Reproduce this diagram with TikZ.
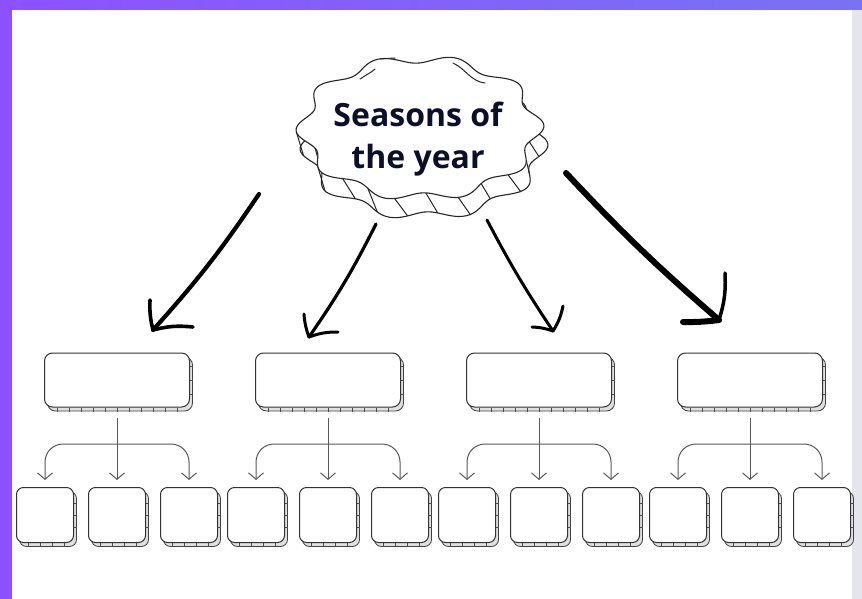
\documentclass[tikz,border=0pt]{standalone}
\usepackage{fontspec}
\newfontfamily\titlefont{Open Sans}
\usetikzlibrary{arrows.meta,calc}
\definecolor{purpL}{RGB}{140,82,255}
\definecolor{purpR}{RGB}{120,114,244}
\definecolor{stripgray}{RGB}{228,230,235}
\definecolor{navy}{RGB}{10,16,42}
\newcommand\cldX[1]{420+117*(1+0.06*cos(10*(#1)+18))*cos(#1)}
\newcommand\cldY[1]{128+69*(1+0.06*cos(10*(#1)+18))*sin(#1)}
\tikzset{brb/.tip={Straight Barb[length=6.5pt,width=15pt,line width=1pt]}}
\begin{document}
\begin{tikzpicture}[x=1pt,y=-1pt,
  cloudline/.style={draw=black!85,line width=1.1pt,fill=white},
  hatch/.style={draw=black!85,line width=1pt},
  title/.style={font=\titlefont\bfseries\fontsize{32}{42}\selectfont,text=navy,align=center,inner sep=0pt},
  bigarrow/.style={draw=black,line cap=round,line join=round},
  topbox/.style={draw=black!80,line width=1pt,fill=white,rounded corners=8pt,
     minimum width=145pt,minimum height=54pt,inner sep=0pt,
     preaction={draw=black!75,fill=black!12,line width=0.8pt,transform canvas={shift={(3pt,-4pt)}}}},
  smallbox/.style={draw=black!80,line width=1pt,fill=white,rounded corners=7pt,
     minimum width=57pt,minimum height=55pt,inner sep=0pt,
     preaction={draw=black!75,fill=black!12,line width=0.8pt,transform canvas={shift={(3pt,-4pt)}}}},
  tickmark/.style={draw=black!70,line width=0.7pt},
  conn/.style={draw=black!65,line width=1pt}
]
\useasboundingbox (0,0) rectangle (862,599);
\fill[white] (0,0) rectangle (862,599);
\shade[left color=purpL,right color=purpR] (0,0) rectangle (862,10);
\fill[purpL] (0,0) rectangle (12,599);
\fill[stripgray] (852,10) rectangle (862,599);

% cloud: back (extruded) face, hatches, front face
\draw[cloudline] plot[domain=0:360,samples=181,smooth cycle,variable=\t]
   ({\cldX{\t}+4},{\cldY{\t}+19});
\foreach \t in {12,27,...,177}
  \draw[hatch] ({\cldX{\t}},{\cldY{\t}}) -- ({\cldX{\t-4}+4},{\cldY{\t-4}+19});
\draw[cloudline] plot[domain=0:360,samples=181,smooth cycle,variable=\t]
   ({\cldX{\t}},{\cldY{\t}});
% little sketch strokes on the cloud
\draw[hatch,line cap=round] (380,59) -- (395,58);
\draw[hatch,line cap=round] (360,79) .. controls (366,75) and (372,72) .. (375,69);
\draw[hatch,line cap=round] (453,63) .. controls (466,69) and (470,81) .. (485,83);

\node[title] (title) at (418,139) {Seasons of\\the year};

% top boxes
\foreach \i/\c in {1/117,2/328,3/539,4/750}{
  \node[topbox] (t\i) at (\c,380) {};
  \node[smallbox] (s\i1) at (\c-72,515) {};
  \node[smallbox] (s\i2) at (\c,515) {};
  \node[smallbox] (s\i3) at (\c+72,515) {};
}
% ticks on the extruded edges
\foreach \n in {t1,t2,t3,t4}{
  \foreach \k in {1,...,11}
    \draw[tickmark] ($(\n.south west)+(\k*12+1,0)$) -- ++(0,4);
  \foreach \k in {-14,0,14}
    \draw[tickmark] ($(\n.east)+(0,\k)$) -- ++(3,0);
}
\foreach \n in {s11,s12,s13,s21,s22,s23,s31,s32,s33,s41,s42,s43}{
  \foreach \k in {1,...,4}
    \draw[tickmark] ($(\n.south west)+(\k*12,0)$) -- ++(0,4);
  \foreach \k in {-12,0,12}
    \draw[tickmark] ($(\n.east)+(0,\k)$) -- ++(3,0);
}

% connectors top box -> small boxes
\foreach \i in {1,2,3,4}{
  \draw[conn,-brb] ([yshift=-10pt]t\i.south) -- ([yshift=7pt]s\i2.north);
  \draw[conn,brb-brb,rounded corners=18pt]
     ([yshift=7pt]s\i1.north) |- ($(s\i3.north)+(0,-43)$) -- ([yshift=7pt]s\i3.north);
}

% big hand-drawn arrows
\coordinate (a1s) at (259,194); \coordinate (a1t) at (153,330);
\coordinate (a1u) at (150,300); \coordinate (a1r) at (193,327);
\coordinate (a2s) at (376,224); \coordinate (a2t) at (309,337);
\coordinate (a2u) at (304,314); \coordinate (a2r) at (338,332);
\coordinate (a3s) at (487,220); \coordinate (a3t) at (553,331);
\coordinate (a3l) at (532,327); \coordinate (a3u) at (563,306);
\coordinate (a4s) at (566,173); \coordinate (a4t) at (719,320);
\coordinate (a4u) at (725,273); \coordinate (a4l) at (683,322);

\draw[bigarrow,line width=4.2pt] (a1s) to[bend left=4] (a1t);
\draw[bigarrow,line width=3.6pt] (a1t) to[bend left=8] (a1u);
\draw[bigarrow,line width=3.6pt] (a1t) to[bend left=10] (a1r);

\draw[bigarrow,line width=3.2pt] (a2s) to[bend left=4] (a2t);
\draw[bigarrow,line width=3pt] (a2t) to[bend left=8] (a2u);
\draw[bigarrow,line width=3pt] (a2t) to[bend left=10] (a2r);

\draw[bigarrow,line width=3pt] (a3s) to[bend right=3] (a3t);
\draw[bigarrow,line width=3pt] (a3t) to[bend right=8] (a3l);
\draw[bigarrow,line width=3pt] (a3t) to[bend right=10] (a3u);

\draw[bigarrow,line width=6pt] (a4s) to[bend right=3] (a4t);
\draw[bigarrow,line width=3.5pt] (a4t) to[bend right=10] (a4u);
\draw[bigarrow,line width=6pt] (a4t) to[bend left=4] (a4l);
\end{tikzpicture}
\end{document}
